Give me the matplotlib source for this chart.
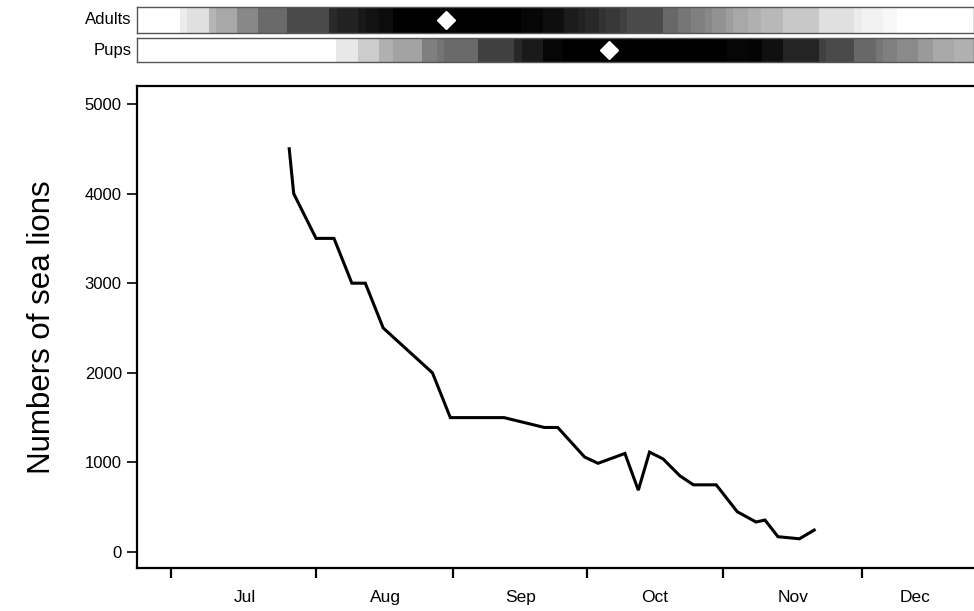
import matplotlib
matplotlib.use('Agg')
import matplotlib.pyplot as plt
import numpy as np

# ---- data (x in days since 1 July) ----
count_days = [25, 26, 31, 35, 39, 42, 46, 57, 61, 73, 82, 85, 91, 94, 100, 103,
              105.5, 108.5, 112.3, 115.3, 120.4, 125.1, 129.3, 131.3, 134.2, 139, 142.3]
counts = [4500, 4000, 3500, 3500, 3000, 3000, 2500, 2000, 1500, 1500, 1390, 1390,
          1060, 990, 1100, 690, 1115, 1040, 850, 750, 750, 450, 335, 357, 171, 148, 245]

adult_edges = [-9.0, 0.6, 2.2, 7.1, 8.7, 13.4, 18.0, 24.5, 33.9, 35.7, 40.4, 42.2, 45.1,
               48.2, 76.8, 81.7, 86.4, 89.5, 91.1, 94.2, 95.8, 98.9, 100.5, 108.5, 111.9,
               114.8, 117.9, 119.5, 122.6, 124.2, 127.5, 130.4, 135.3, 143.4, 151.2, 153.0,
               157.7, 160.8, 178.0]
adult_gray = [255, 236, 224, 181, 168, 136, 106, 74, 42, 34, 24, 18, 12, 0, 6, 14, 28, 34,
              40, 50, 56, 64, 74, 104, 118, 128, 136, 146, 158, 168, 176, 184, 200, 224,
              236, 242, 248, 255]
pup_edges = [-9.0, 35.5, 40.4, 45.1, 48.2, 54.7, 58.0, 59.5, 67.2, 75.2, 77.0, 81.7, 86.2,
             122.9, 127.5, 130.7, 135.3, 143.4, 144.9, 151.2, 156.1, 157.7, 160.8, 165.5,
             168.9, 173.6, 178.0]
pup_gray = [255, 232, 204, 176, 163, 127, 116, 106, 64, 40, 26, 6, 0, 6, 4, 16, 36, 64, 74,
            104, 118, 128, 138, 154, 168, 176]
adult_peak = 60.0
pup_peak = 96.5

month_labels = ['Jul', 'Aug', 'Sep', 'Oct', 'Nov', 'Dec']
month_tick_days = [-1.5, 31, 61.5, 91.5, 122, 153]
month_label_days = [15.1, 46.4, 76.6, 106.7, 137.6, 164.8]
y_ticks = [0, 1000, 2000, 3000, 4000, 5000]

plt.rcParams['font.family'] = ['Liberation Sans', 'DejaVu Sans']

fig = plt.figure(figsize=(9.74, 6.11), dpi=100)
xlim = (-9.0, 178.0)

# ---- main axes ----
ax = fig.add_axes([0.1407, 0.0704, 0.8593, 0.7888])
ax.plot(count_days, counts, color='black', lw=2.2, solid_joinstyle='miter')
ax.set_xlim(*xlim)
ax.set_ylim(-178, 5200)
for s in ['left', 'bottom', 'top']:
    ax.spines[s].set_linewidth(1.6)
ax.spines['right'].set_visible(False)
ax.set_yticks(y_ticks)
ax.set_yticklabels([str(v) for v in y_ticks], fontsize=12)
ax.set_xticks(month_tick_days)
ax.set_xticklabels([])
ax.set_xticks(month_label_days, minor=True)
ax.set_xticklabels(month_labels, minor=True, fontsize=12.5)
ax.tick_params(axis='x', which='major', direction='out', length=7, width=1.6)
ax.tick_params(axis='x', which='minor', length=0, pad=16)
ax.tick_params(axis='y', direction='out', length=7, width=1.2, pad=4)
ax.set_ylabel('Numbers of sea lions', fontsize=22.5, labelpad=20)

# ---- strips ----
def strip(rect, edges, gray, peak, label):
    a = fig.add_axes(rect)
    vals = np.array(gray, dtype=float)[None, :] / 255.0
    a.pcolormesh(np.array(edges), [0, 1], vals, cmap='gray', vmin=0, vmax=1,
                 shading='flat', edgecolors='none')
    a.plot([peak], [0.5], marker='D', color='white', ms=9, mec='white')
    a.set_xlim(*xlim)
    a.set_ylim(0, 1)
    a.set_xticks([])
    a.set_yticks([])
    for s in a.spines.values():
        s.set_color('#555555')
        s.set_linewidth(1.0)
    a.text(-0.007, 0.5, label, transform=a.transAxes, ha='right', va='center', fontsize=12)
    return a

strip([0.1407, 0.946, 0.8593, 0.0426], adult_edges, adult_gray, adult_peak, 'Adults')
strip([0.1407, 0.8985, 0.8593, 0.0393], pup_edges, pup_gray, pup_peak, 'Pups')

fig.savefig('out.png', dpi=100)
